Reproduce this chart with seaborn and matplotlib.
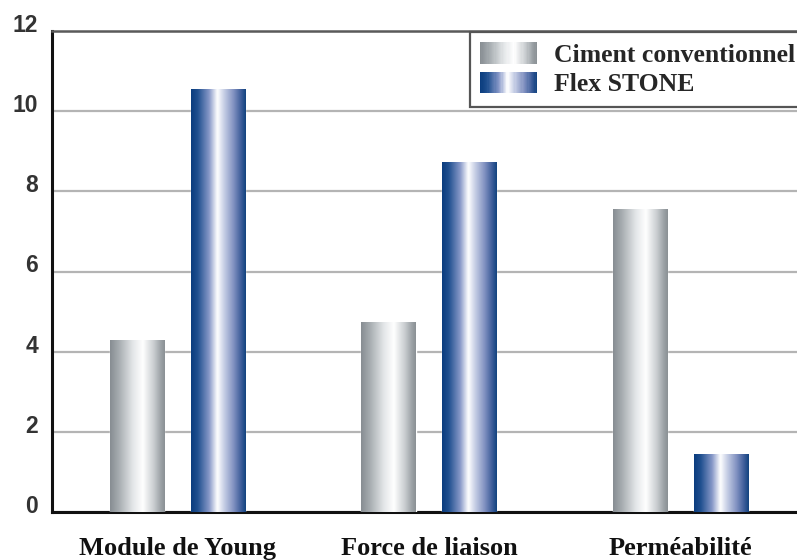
import numpy as np
import pandas as pd
import seaborn as sns
import matplotlib
matplotlib.use("Agg")
import matplotlib.pyplot as plt
from matplotlib.colors import LinearSegmentedColormap
from matplotlib.patches import Rectangle
from matplotlib.legend_handler import HandlerBase
from matplotlib.transforms import ScaledTranslation

# Data
categories = ["Module de Young", "Force de liaison", "Perméabilité"]
series_names = ["Ciment conventionnel", "Flex STONE"]
ciment_values = [4.3, 4.75, 7.55]
flex_values = [10.55, 8.72, 1.45]
y_ticks = [0, 2, 4, 6, 8, 10, 12]

df = pd.DataFrame({
    "categorie": categories * 2,
    "serie": [series_names[0]] * 3 + [series_names[1]] * 3,
    "valeur": ciment_values + flex_values,
})

# Cylindrical shading for each series
grey_cmap = LinearSegmentedColormap.from_list("grey_cyl", [
    (0.0, "#878d92"), (0.15, "#a4aaae"), (0.42, "#e4e7e9"),
    (0.6, "#ffffff"), (0.8, "#c9cdd0"), (0.93, "#9ba1a5"), (1.0, "#8a9094")])
blue_cmap = LinearSegmentedColormap.from_list("blue_cyl", [
    (0.0, "#0a3c7e"), (0.12, "#1f4f8f"), (0.33, "#8798c8"),
    (0.48, "#ffffff"), (0.6, "#c8d0e6"), (0.78, "#8090c0"),
    (0.92, "#3a5b98"), (1.0, "#12437f")])
cmaps = [grey_cmap, blue_cmap]

sns.set_theme(style="white")
plt.rcParams["font.family"] = ["Liberation Sans", "DejaVu Sans"]

fig = plt.figure(figsize=(7.97, 5.60), dpi=100)
ax = fig.add_axes([52 / 797, 48 / 560, (820 - 52) / 797, (512 - 31) / 560])

sns.barplot(data=df, x="categorie", y="valeur", hue="serie",
            palette=["#a0a6aa", "#1f4e8f"], width=0.644, gap=0.332,
            saturation=1, errorbar=None, legend=False, ax=ax, zorder=3)

# Overlay the shading gradient on each bar, clipped to its rectangle
grad = np.linspace(0, 1, 256).reshape(1, -1)
for container, cmap in zip(ax.containers, cmaps):
    for bar in container:
        x0, y0 = bar.get_x(), bar.get_y()
        w, h = bar.get_width(), bar.get_height()
        im = ax.imshow(grad, cmap=cmap, aspect="auto",
                       extent=(x0, x0 + w, y0, y0 + h), zorder=4,
                       interpolation="bicubic")
        im.set_clip_path(bar)

ax.set_xlim(-0.499, 2.555)
ax.set_ylim(0, 12)
ax.set_yticks(y_ticks)
ax.set_yticklabels([str(t) for t in y_ticks])
ax.set_xlabel("")
ax.set_ylabel("")

ax.yaxis.grid(True, color="#b4b4b4", linewidth=1.6, zorder=0)
ax.set_axisbelow(True)

for side in ["left", "bottom"]:
    ax.spines[side].set_color("#111111")
    ax.spines[side].set_linewidth(2.2)
ax.spines["top"].set_color("#5a5a5a")
ax.spines["top"].set_linewidth(1.8)
ax.spines["right"].set_visible(False)

ax.tick_params(axis="y", length=0, pad=10, labelsize=16.5, labelcolor="#333333")
ax.tick_params(axis="x", length=0, pad=18, labelsize=19)
for lbl in ax.get_yticklabels():
    lbl.set_fontweight("bold")
    lbl.set_transform(lbl.get_transform() + ScaledTranslation(0, 8 / 100, fig.dpi_scale_trans))
for lbl in ax.get_xticklabels():
    lbl.set_fontfamily(["Liberation Serif", "DejaVu Serif"])
    lbl.set_fontweight("bold")
    lbl.set_color("#111111")


class GradientHandler(HandlerBase):
    def __init__(self, cmap, n=48):
        super().__init__()
        self.cmap = cmap
        self.n = n

    def create_artists(self, legend, orig_handle, xdescent, ydescent,
                       width, height, fontsize, trans):
        step = width / self.n
        return [Rectangle((-xdescent + i * step, -ydescent), step * 1.05, height,
                          facecolor=self.cmap((i + 0.5) / self.n),
                          linewidth=0, transform=trans)
                for i in range(self.n)]


handles = [Rectangle((0, 0), 1, 1), Rectangle((0, 0), 1, 1)]
leg = ax.legend(handles, series_names,
                handler_map={handles[0]: GradientHandler(grey_cmap),
                             handles[1]: GradientHandler(blue_cmap)},
                loc="upper left", bbox_to_anchor=(470 / 797, 1 - 32 / 560),
                bbox_transform=fig.transFigure, borderaxespad=0,
                frameon=True, fancybox=False, framealpha=1,
                handlelength=2.2, handleheight=0.9, handletextpad=0.65,
                labelspacing=0.2, borderpad=0.4,
                prop={"family": ["Liberation Serif", "DejaVu Serif"],
                      "weight": "bold", "size": 18.5})
leg.get_frame().set_edgecolor("#555555")
leg.get_frame().set_linewidth(1.6)
leg.set_zorder(6)

fig.savefig("out.png", dpi=100)
